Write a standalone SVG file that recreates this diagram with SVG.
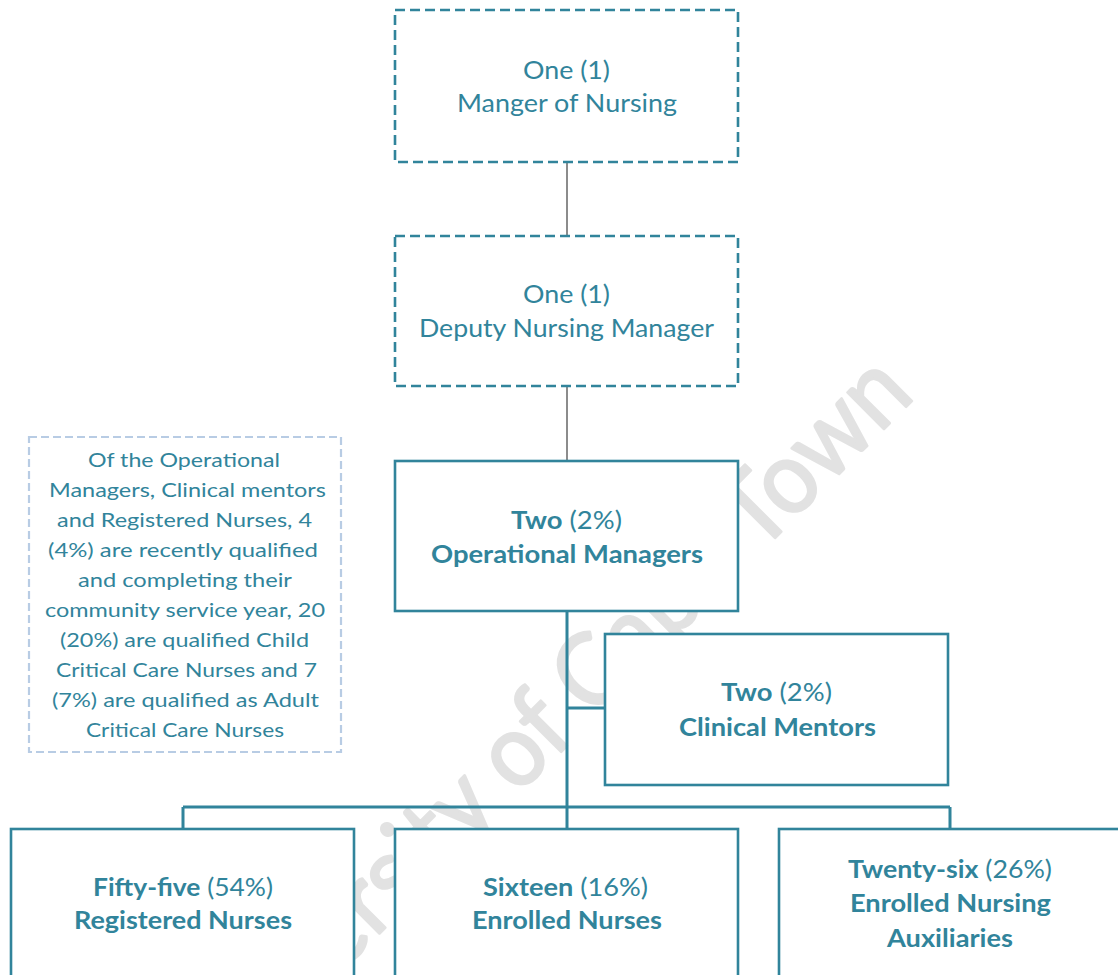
<svg xmlns="http://www.w3.org/2000/svg" width="1118" height="975" viewBox="0 0 1118 975">
  <style>
    .wm{font-family:Lato,"Open Sans",sans-serif;font-size:102px;fill:#e2e2e2;stroke:#e2e2e2;stroke-width:2.5;stroke-linejoin:round}
    .box{fill:#fff;stroke:#31849b;stroke-width:2.6}
    .dash{stroke-dasharray:10 5}
    .note{fill:#fff;stroke:#b8cce4;stroke-width:2.2;stroke-dasharray:8 4}
    .t{font-family:Lato,"Open Sans",sans-serif;fill:#31849b;font-size:25px}
    .n{font-size:20px}
    .b{font-weight:700}
    .grey{stroke:#8c8c8c;stroke-width:2;fill:none}
    .link{stroke:#31849b;stroke-width:3;fill:none}
  </style>

  <rect width="1118" height="975" fill="#fff"/>

  <!-- background watermark -->
  <text class="wm" x="205" y="1108" transform="rotate(-45 205 1108)" textLength="1006" lengthAdjust="spacingAndGlyphs">University of Cape Town</text>

  <!-- connectors -->
  <g id="connectors">
    <path class="grey" d="M567 162V236M567 386V461"/>
    <path class="link" d="M567 611V829M567 708H605M183 807H950M183 807V829M950 807V829"/>
  </g>

  <g id="manager">
    <rect class="box dash" x="395" y="10" width="343" height="152"/>
    <text class="t" x="523" y="79" textLength="87" lengthAdjust="spacingAndGlyphs">One (1)</text>
    <text class="t" x="457" y="112" textLength="220" lengthAdjust="spacingAndGlyphs">Manger of Nursing</text>
  </g>

  <g id="deputy">
    <rect class="box dash" x="395" y="236" width="343" height="150"/>
    <text class="t" x="523" y="303" textLength="87" lengthAdjust="spacingAndGlyphs">One (1)</text>
    <text class="t" x="419" y="337" textLength="295" lengthAdjust="spacingAndGlyphs">Deputy Nursing Manager</text>
  </g>

  <g id="note">
    <rect class="note" x="29" y="437" width="312" height="315"/>
    <text class="t n" x="88" y="467" textLength="192" lengthAdjust="spacingAndGlyphs">Of the Operational</text>
    <text class="t n" x="49" y="497" textLength="277" lengthAdjust="spacingAndGlyphs">Managers, Clinical mentors</text>
    <text class="t n" x="57" y="527" textLength="255" lengthAdjust="spacingAndGlyphs">and Registered Nurses, 4</text>
    <text class="t n" x="48" y="557" textLength="270" lengthAdjust="spacingAndGlyphs">(4%) are recently qualified</text>
    <text class="t n" x="78" y="587" textLength="214" lengthAdjust="spacingAndGlyphs">and completing their</text>
    <text class="t n" x="45" y="617" textLength="280" lengthAdjust="spacingAndGlyphs">community service year, 20</text>
    <text class="t n" x="60" y="647" textLength="249" lengthAdjust="spacingAndGlyphs">(20%) are qualified Child</text>
    <text class="t n" x="56" y="677" textLength="261" lengthAdjust="spacingAndGlyphs">Critical Care Nurses and 7</text>
    <text class="t n" x="52" y="707" textLength="267" lengthAdjust="spacingAndGlyphs">(7%) are qualified as Adult</text>
    <text class="t n" x="86" y="737" textLength="198" lengthAdjust="spacingAndGlyphs">Critical Care Nurses</text>
  </g>

  <g id="operational-managers">
    <rect class="box" x="395" y="461" width="343" height="150"/>
    <text class="t" x="511" y="529" textLength="111" lengthAdjust="spacingAndGlyphs"><tspan class="b">Two</tspan> (2%)</text>
    <text class="t b" x="431" y="563" textLength="272" lengthAdjust="spacingAndGlyphs">Operational Managers</text>
  </g>

  <g id="clinical-mentors">
    <rect class="box" x="605" y="634" width="343" height="151"/>
    <text class="t" x="721" y="701" textLength="111" lengthAdjust="spacingAndGlyphs"><tspan class="b">Two</tspan> (2%)</text>
    <text class="t b" x="679" y="736" textLength="197" lengthAdjust="spacingAndGlyphs">Clinical Mentors</text>
  </g>

  <g id="registered-nurses">
    <rect class="box" x="11" y="829" width="343" height="160"/>
    <text class="t" x="93" y="896" textLength="180" lengthAdjust="spacingAndGlyphs"><tspan class="b">Fifty-five</tspan> (54%)</text>
    <text class="t b" x="74" y="929" textLength="218" lengthAdjust="spacingAndGlyphs">Registered Nurses</text>
  </g>

  <g id="enrolled-nurses">
    <rect class="box" x="395" y="829" width="343" height="160"/>
    <text class="t" x="483" y="896" textLength="165" lengthAdjust="spacingAndGlyphs"><tspan class="b">Sixteen</tspan> (16%)</text>
    <text class="t b" x="472" y="929" textLength="190" lengthAdjust="spacingAndGlyphs">Enrolled Nurses</text>
  </g>

  <g id="enrolled-nursing-auxiliaries">
    <rect class="box" x="779" y="829" width="360" height="160"/>
    <text class="t" x="848" y="878" textLength="204" lengthAdjust="spacingAndGlyphs"><tspan class="b">Twenty-six</tspan> (26%)</text>
    <text class="t b" x="850" y="912" textLength="201" lengthAdjust="spacingAndGlyphs">Enrolled Nursing</text>
    <text class="t b" x="887" y="947" textLength="126" lengthAdjust="spacingAndGlyphs">Auxiliaries</text>
  </g>
</svg>
